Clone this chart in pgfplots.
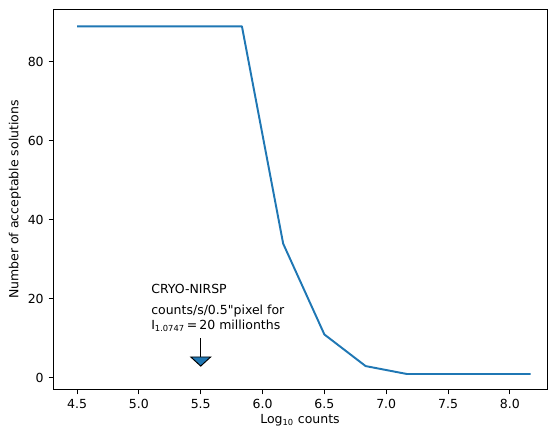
\documentclass[border=0pt]{standalone}
\usepackage{fontspec}
\setmainfont{DejaVu Sans}
\newfontfamily\qfont{DejaVu Sans}
\usepackage{pgfplots}
\pgfplotsset{compat=1.18}
\definecolor{mplblue}{HTML}{1F77B4}

\begin{document}
\begin{tikzpicture}[font=\fontsize{9}{11}\selectfont]
\begin{axis}[
  scale only axis,
  width=355.7pt, height=274.3pt,
  xmin=4.306, xmax=8.30,
  ymin=-3.04, ymax=93.4,
  xtick={4.5,5.0,5.5,6.0,6.5,7.0,7.5,8.0},
  ytick={0,20,40,60,80},
  xticklabel style={/pgf/number format/.cd,fixed,fixed zerofill,precision=1},
  /pgf/number format/assume math mode=true,
  tick align=outside,
  xtick pos=bottom, ytick pos=left,
  major tick length=3.2pt,
  tick style={black, line width=0.72pt},
  axis line style={line width=0.72pt},
  xlabel={Log\textsubscript{10} counts},
  ylabel={Number of acceptable solutions},
  xlabel style={yshift=3pt},
  ylabel style={yshift=-2pt},
]
\addplot[mplblue, line width=1.4pt, line join=round] coordinates {
(4.5,89) (4.8333,89) (5.1667,89) (5.5,89) (5.8333,89)
(6.1667,34) (6.5,11) (6.8333,3) (7.1667,1) (7.5,1) (7.8333,1) (8.1667,1)
};
\node[anchor=base west, inner sep=0pt] at (axis cs:5.098,21.5) {CRYO-NIRSP};
\node[anchor=base west, inner sep=0pt] at (axis cs:5.098,16.0) {counts/s/0.5{\qfont"}pixel for};
\node[anchor=base west, inner sep=0pt] at (axis cs:5.098,12.3) {I\textsubscript{1.0747}\,=\,20 millionths};
\draw[black, line width=1.1pt] (axis cs:5.5,10.1) -- (axis cs:5.5,5.3);
\fill[mplblue, draw=black, line width=0.7pt]
  (axis cs:5.42,5.3) -- (axis cs:5.58,5.3) -- (axis cs:5.5,3.0) -- cycle;
\end{axis}
\path ([xshift=-38.2pt,yshift=-28.8pt]current axis.south west)
  rectangle ([xshift=0.72pt,yshift=6.5pt]current axis.north east);
\end{tikzpicture}
\end{document}
